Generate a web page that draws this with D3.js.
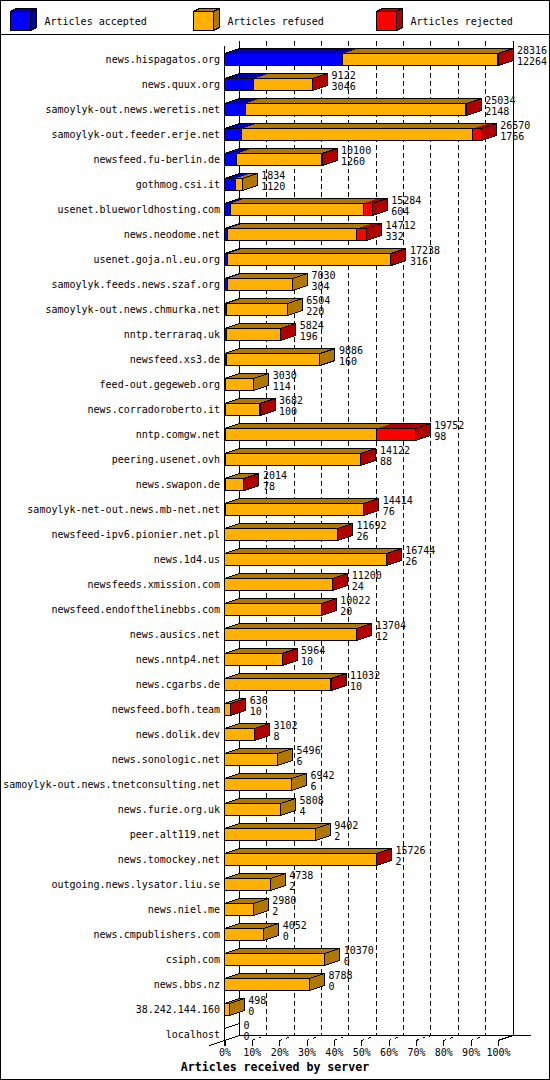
<!DOCTYPE html>
<html>
<head>
<meta charset="utf-8">
<script src="https://cdn.jsdelivr.net/npm/d3@7"></script>
<style>
  body { margin: 0; background: #fff; }
  text { font-family: "DejaVu Sans Mono", monospace; font-size: 10px; fill: #000; }
</style>
</head>
<body>
<div id="chart"></div>
<script>
// servers, top to bottom
const servers = [
  "news.hispagatos.org", "news.quux.org", "samoylyk-out.news.weretis.net",
  "samoylyk-out.feeder.erje.net", "newsfeed.fu-berlin.de", "gothmog.csi.it",
  "usenet.blueworldhosting.com", "news.neodome.net", "usenet.goja.nl.eu.org",
  "samoylyk.feeds.news.szaf.org", "samoylyk-out.news.chmurka.net", "nntp.terraraq.uk",
  "newsfeed.xs3.de", "feed-out.gegeweb.org", "news.corradoroberto.it",
  "nntp.comgw.net", "peering.usenet.ovh", "news.swapon.de",
  "samoylyk-net-out.news.mb-net.net", "newsfeed-ipv6.pionier.net.pl", "news.1d4.us",
  "newsfeeds.xmission.com", "newsfeed.endofthelinebbs.com", "news.ausics.net",
  "news.nntp4.net", "news.cgarbs.de", "newsfeed.bofh.team",
  "news.dolik.dev", "news.sonologic.net", "samoylyk-out.news.tnetconsulting.net",
  "news.furie.org.uk", "peer.alt119.net", "news.tomockey.net",
  "outgoing.news.lysator.liu.se", "news.niel.me", "news.cmpublishers.com",
  "csiph.com", "news.bbs.nz", "38.242.144.160", "localhost"
];

const accepted = [12264, 3046, 2148, 1766, 1260, 1120, 604, 332, 316, 304, 220, 196,
  160, 114, 100, 98, 88, 78, 76, 26, 26, 24, 20, 12, 10, 10, 10, 8, 6, 6, 4, 2, 2, 2, 2,
  0, 0, 0, 0, 0];
const refused = [16012, 6046, 22842, 23944, 8820, 714, 13750, 13350, 16898, 6726, 6284, 5614,
  9726, 2916, 3570, 15684, 14012, 1928, 14320, 11650, 16698, 11160, 9990, 13674, 5946, 11008,
  620, 3084, 5490, 6936, 5804, 9400, 15712, 4736, 2978, 4052, 10370, 8788, 498, 0];
const rejected = [40, 30, 44, 860, 20, 0, 930, 1030, 24, 0, 0, 14,
  0, 0, 12, 3970, 22, 8, 18, 16, 20, 16, 12, 18, 8, 14, 6, 10, 0, 0, 0, 0, 12, 0, 0,
  0, 0, 0, 0, 0];

const pctTicks = [0, 10, 20, 30, 40, 50, 60, 70, 80, 90, 100];
const legendLabels = ["Articles accepted", "Articles refused", "Articles rejected"];
const keys = ["acc", "ref", "rej"];
const frontColor = { acc: "#0000ff", ref: "#ffb000", rej: "#ff0000" };
const darkColor = { acc: "#0000b0", ref: "#b07800", rej: "#b00000" };

const W = 550, H = 1080;
const DX = 15, DY = 5;          // 3d depth
const floorY = 1040.5;          // front edge of the floor
const topY = 45.5;

const rows = servers.map((s, i) => ({ name: s, acc: accepted[i], ref: refused[i], rej: rejected[i] }));
rows.forEach(d => d.total = d.acc + d.ref + d.rej);

const svg = d3.select("#chart").append("svg")
  .attr("width", W).attr("height", H)
  .attr("shape-rendering", "crispEdges");

// frame + legend separator
svg.append("rect").attr("x", 0.5).attr("y", 0.5).attr("width", W - 1).attr("height", H - 1)
  .attr("fill", "#fff").attr("stroke", "#000");
svg.append("line").attr("x1", 0).attr("x2", W).attr("y1", 34.5).attr("y2", 34.5).attr("stroke", "#000");

// scales
const x = d3.scaleLinear().domain([0, d3.max(rows, d => d.total)]).range([224.5, 498]);
const pct = d3.scaleLinear().domain([0, 100]).range([224.5, 498]);
const y = d3.scaleBand().domain(servers).range([47, 1047]).paddingInner(0.52).paddingOuter(0.26);
const bh = y.bandwidth();

// legend
const lx = [10.5, 193.5, 376.5];
const leg = svg.append("g").selectAll("g").data(keys).join("g")
  .attr("transform", (d, i) => `translate(${lx[i]},11.5)`);
leg.append("polygon").attr("points", `0,0 6,-3 26,-3 20,0`)
  .attr("fill", d => darkColor[d]).attr("stroke", "#000");
leg.append("polygon").attr("points", `20,0 26,-3 26,16 20,19`)
  .attr("fill", d => darkColor[d]).attr("stroke", "#000");
leg.append("rect").attr("width", 20).attr("height", 19)
  .attr("fill", d => frontColor[d]).attr("stroke", "#000");
leg.append("text").attr("x", 34).attr("y", 13.5).text((d, i) => legendLabels[i]);

// back wall, gridlines and axes
const grid = svg.append("g").attr("stroke", "#000");
grid.selectAll("line.g").data(pctTicks.slice(1, -1)).join("line")
  .attr("x1", d => pct(d) + DX).attr("x2", d => pct(d) + DX)
  .attr("y1", topY - DY).attr("y2", floorY - DY)
  .attr("stroke-dasharray", "5,3");
grid.selectAll("line.f").data(pctTicks.slice(1, -1)).join("line")
  .attr("x1", d => pct(d)).attr("x2", d => pct(d) + DX)
  .attr("y1", floorY).attr("y2", floorY - DY)
  .attr("stroke-dasharray", "3,4");
grid.append("line").attr("x1", pct(0) + DX).attr("x2", pct(0) + DX).attr("y1", topY - DY).attr("y2", floorY - DY);
grid.append("line").attr("x1", pct(100) + DX).attr("x2", pct(100) + DX).attr("y1", topY - DY).attr("y2", floorY - DY);
grid.append("line").attr("x1", pct(0)).attr("x2", pct(0)).attr("y1", topY).attr("y2", floorY + 5);
grid.append("line").attr("x1", pct(0) + DX).attr("x2", pct(100) + DX + 18).attr("y1", floorY - DY).attr("y2", floorY - DY);
grid.append("line").attr("x1", pct(0) + DX).attr("x2", pct(0) - DX).attr("y1", floorY - DY).attr("y2", floorY + DY);
grid.append("line").attr("x1", pct(100)).attr("x2", pct(100) + DX).attr("y1", floorY).attr("y2", floorY - DY);

const axis = svg.append("g").attr("transform", `translate(0,${floorY})`)
  .call(d3.axisBottom(pct).tickValues(pctTicks).tickFormat(d => d + "%").tickSizeInner(5).tickSizeOuter(0).tickPadding(3));
axis.select(".domain").remove();
axis.selectAll("text").style("font-family", "DejaVu Sans Mono").style("font-size", "10px").attr("fill", "#000");

// bars
const stacked = d3.stack().keys(keys)(rows);
const bars = svg.append("g");

stacked.forEach(layer => {
  const k = layer.key;
  const segs = layer.filter(s => s[1] > s[0]);
  bars.selectAll(null).data(segs).join("polygon")
    .attr("points", s => {
      const t = y(s.data.name), a = x(s[0]), b = x(s[1]);
      return [[a, t], [b, t], [b + DX, t - DY], [a + DX, t - DY]].join(" ");
    })
    .attr("fill", darkColor[k]);
  bars.selectAll(null).data(segs).join("rect")
    .attr("x", s => x(s[0])).attr("y", s => y(s.data.name))
    .attr("width", s => x(s[1]) - x(s[0])).attr("height", bh)
    .attr("fill", frontColor[k]).attr("stroke", "#000");
});

// end face and outline of the top face
const lastKey = d => d.rej > 0 ? "rej" : d.ref > 0 ? "ref" : "acc";
bars.selectAll(null).data(rows).join("polygon")
  .attr("points", d => {
    const t = y(d.name), e = x(d.total);
    return [[e, t], [e + DX, t - DY], [e + DX, t - DY + bh], [e, t + bh]].join(" ");
  })
  .attr("fill", d => d.total > 0 ? darkColor[lastKey(d)] : "none")
  .attr("stroke", "#000");
bars.selectAll(null).data(rows).join("polygon")
  .attr("points", d => {
    const t = y(d.name), e = x(d.total), a = x(0);
    return [[a, t], [e, t], [e + DX, t - DY], [a + DX, t - DY]].join(" ");
  })
  .attr("fill", "none").attr("stroke", "#000");

// row labels and values
const labels = svg.append("g");
labels.selectAll(null).data(rows).join("text")
  .attr("x", 220).attr("y", d => y(d.name) + 9.5)
  .attr("text-anchor", "end").text(d => d.name);
labels.selectAll(null).data(rows).join("text")
  .attr("x", d => x(d.total) + DX + 4).attr("y", d => y(d.name))
  .text(d => d.total);
labels.selectAll(null).data(rows).join("text")
  .attr("x", d => x(d.total) + DX + 4).attr("y", d => y(d.name) + 11)
  .text(d => d.acc);

// axis title
svg.append("text").attr("x", 275).attr("y", 1070.5).attr("text-anchor", "middle")
  .style("font-size", "11.6px").style("font-weight", "bold")
  .text("Articles received by server");
</script>
</body>
</html>
